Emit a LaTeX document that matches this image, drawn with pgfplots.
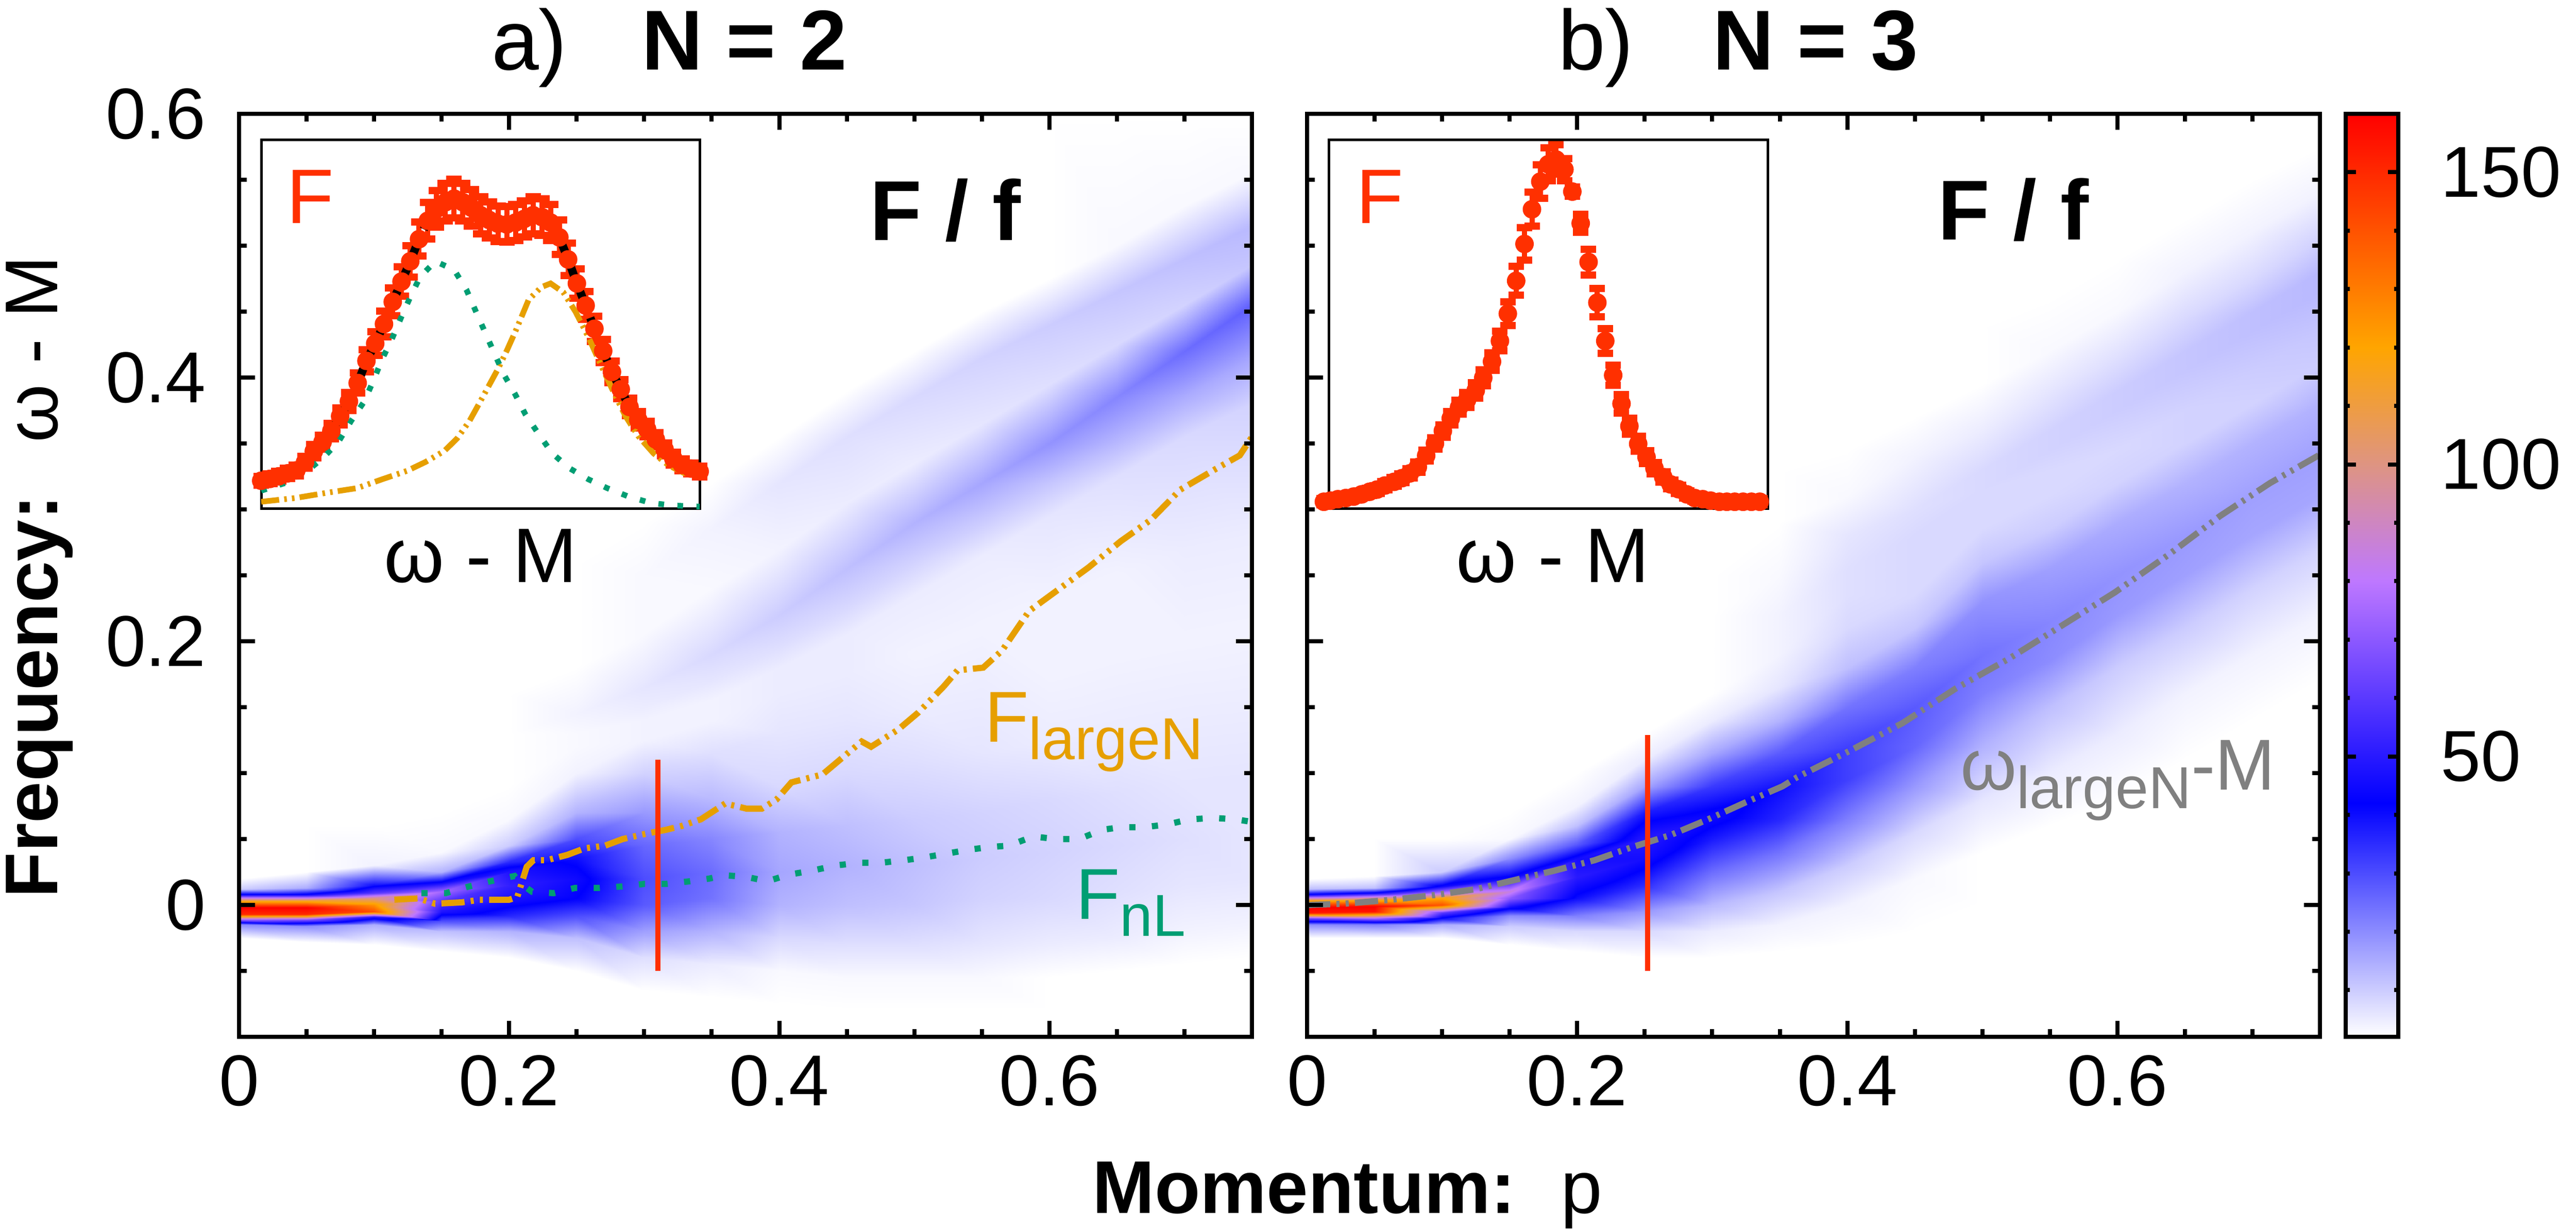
\documentclass[border=0pt]{standalone}
\usepackage{fontspec}
\setmainfont{Liberation Sans}
\usepackage{pgfplots}
\usepackage{pgfplotstable}
\pgfplotsset{compat=1.18}
\definecolor{fred}{RGB}{255,48,0}
\definecolor{forange}{RGB}{230,159,0}
\definecolor{fgreen}{RGB}{0,158,115}
\definecolor{fgrey}{RGB}{128,128,128}
\pgfplotsset{
  colormap={heat}{rgb255(0)=(255,255,255) rgb255(253)=(0,0,255) rgb255(494)=(190,120,255) rgb255(620)=(222,148,130) rgb255(747)=(255,165,0) rgb255(1000)=(255,0,0)},
  /pgf/number format/assume math mode=true,
  mainax/.style={
    anchor=south west, width=196.6pt, height=179.2pt, scale only axis,
    xmin=0, xmax=0.75, ymin=-0.1, ymax=0.6,
    xtick={0,0.2,0.4,0.6}, ytick={0,0.2,0.4,0.6},
    minor xtick={0.05,0.1,0.15,0.25,0.3,0.35,0.45,0.5,0.55,0.65,0.7},
    minor ytick={-0.05,0.05,0.1,0.15,0.25,0.3,0.35,0.45,0.5,0.55},
    tick align=inside, major tick length=3.1pt, minor tick length=1.5pt,
    axis line style={line width=0.8pt},
    every tick/.append style={line width=0.8pt, black},
    tick label style={font=\fontsize{14}{14}\selectfont},
    point meta min=2, point meta max=160,
    axis on top,
  },
  inset/.style={
    anchor=south west, width=85.1pt, height=71.6pt, scale only axis,
    xmin=0, xmax=1, ymin=0, ymax=1, ticks=none,
    axis line style={line width=0.5pt},
    axis background/.style={fill=white}, clip=false,
  },
  heat/.style={surf, shader=interp, mesh/cols=16, point meta=explicit},
  ddd/.style={line width=1.2pt, dash pattern=on 4.5pt off 1.2pt on 0.6pt off 1.2pt on 0.6pt off 1.2pt},
  dotsq/.style={line width=1.2pt, dash pattern=on 1.2pt off 3.2pt},
  errpts/.style={only marks, mark=*, mark size=1.6pt, fred, mark options={fill=fred, draw=fred},
    error bars/y dir=both, error bars/y explicit,
    error bars/error bar style={line width=1pt, fred},
    error bars/error mark options={rotate=90, mark size=1.5pt, line width=1.4pt, fred}},
}
\pgfplotstableread{
0 0.075 0.012
0.02 0.08 0.013
0.04 0.087 0.013
0.06 0.095 0.014
0.08 0.103 0.015
0.1 0.125 0.016
0.12 0.155 0.018
0.14 0.18 0.019
0.16 0.21 0.021
0.18 0.25 0.023
0.2 0.29 0.025
0.22 0.34 0.027
0.24 0.4 0.03
0.26 0.447 0.032
0.28 0.5 0.035
0.3 0.56 0.038
0.32 0.615 0.04
0.34 0.67 0.043
0.36 0.73 0.046
0.38 0.78 0.049
0.4 0.812 0.05
0.42 0.83 0.051
0.44 0.84 0.052
0.46 0.83 0.051
0.48 0.815 0.05
0.5 0.795 0.05
0.52 0.782 0.049
0.54 0.772 0.048
0.56 0.77 0.048
0.58 0.775 0.049
0.6 0.785 0.049
0.62 0.795 0.05
0.64 0.79 0.05
0.66 0.775 0.049
0.68 0.735 0.047
0.7 0.675 0.044
0.72 0.61 0.04
0.74 0.55 0.038
0.76 0.487 0.034
0.78 0.427 0.031
0.8 0.37 0.029
0.82 0.323 0.026
0.84 0.275 0.024
0.86 0.24 0.022
0.88 0.215 0.021
0.9 0.187 0.019
0.92 0.16 0.018
0.94 0.135 0.017
0.96 0.118 0.016
0.98 0.108 0.015
1 0.1 0.015
}\insetA
\pgfplotstableread{
-0.011 0.018 0.008
0.004 0.021 0.008
0.021 0.025 0.008
0.039 0.028 0.008
0.057 0.032 0.009
0.075 0.038 0.009
0.093 0.045 0.01
0.110 0.051 0.01
0.128 0.062 0.011
0.149 0.072 0.012
0.167 0.082 0.012
0.185 0.095 0.013
0.203 0.112 0.014
0.222 0.143 0.015
0.242 0.176 0.016
0.260 0.210 0.017
0.278 0.244 0.018
0.297 0.274 0.019
0.315 0.294 0.02
0.335 0.320 0.021
0.352 0.354 0.022
0.372 0.398 0.024
0.390 0.454 0.026
0.408 0.528 0.032
0.427 0.617 0.039
0.446 0.717 0.044
0.463 0.811 0.046
0.482 0.886 0.045
0.500 0.933 0.045
0.518 0.946 0.04
0.537 0.919 0.03
0.555 0.859 0.012
0.574 0.773 0.025
0.592 0.668 0.035
0.612 0.558 0.038
0.630 0.454 0.033
0.648 0.361 0.027
0.667 0.284 0.025
0.685 0.223 0.022
0.705 0.175 0.02
0.724 0.139 0.018
0.742 0.109 0.016
0.762 0.085 0.014
0.779 0.065 0.012
0.797 0.052 0.011
0.816 0.038 0.01
0.834 0.028 0.009
0.852 0.025 0.008
0.870 0.021 0.008
0.890 0.018 0.008
0.907 0.018 0.008
0.925 0.018 0.008
0.944 0.018 0.008
0.963 0.018 0.008
0.982 0.018 0.008
}\insetB
\begin{document}
\begin{tikzpicture}
\useasboundingbox (0,0) rectangle (500pt,-238.9pt);
% ---------------- panel a ----------------
\begin{axis}[mainax, at={(46.4pt,-201.3pt)}, yticklabel style={xshift=-2.9pt}]
\addplot[heat] coordinates {
(0,-0.1)[0] (0.05,-0.1)[0] (0.1,-0.1)[0] (0.15,-0.1)[0] (0.2,-0.1)[0] (0.25,-0.1)[0] (0.3,-0.1)[0] (0.35,-0.1)[0] (0.4,-0.1)[0] (0.45,-0.1)[0] (0.5,-0.1)[0] (0.55,-0.1)[0] (0.6,-0.1)[0] (0.65,-0.1)[0] (0.7,-0.1)[0] (0.75,-0.1)[0]
(0,-0.025)[2] (0.05,-0.028)[2] (0.1,-0.03)[2] (0.15,-0.035)[2] (0.2,-0.04)[2] (0.25,-0.05)[2] (0.3,-0.065)[2] (0.35,-0.07)[2] (0.4,-0.075)[2] (0.45,-0.08)[2] (0.5,-0.08)[2] (0.55,-0.08)[2] (0.6,-0.08)[2] (0.65,-0.08)[2] (0.7,-0.075)[2] (0.75,-0.07)[2]
(0,-0.015)[20] (0.05,-0.016)[20] (0.1,-0.015)[15] (0.15,-0.02)[12] (0.2,-0.02)[14] (0.25,-0.025)[12] (0.3,-0.04)[7] (0.35,-0.045)[5] (0.4,-0.05)[3] (0.45,-0.055)[3] (0.5,-0.055)[3] (0.55,-0.055)[3] (0.6,-0.055)[2] (0.65,-0.05)[2] (0.7,-0.045)[2] (0.75,-0.04)[2]
(0,-0.011)[75] (0.05,-0.011)[70] (0.1,-0.009)[50] (0.15,-0.012)[30] (0.2,-0.008)[36] (0.25,-0.008)[30] (0.3,-0.02)[17] (0.35,-0.02)[14] (0.4,-0.025)[8] (0.45,-0.03)[7] (0.5,-0.03)[7] (0.55,-0.03)[6] (0.6,-0.03)[5] (0.65,-0.025)[5] (0.7,-0.02)[4] (0.75,-0.015)[4]
(0,-0.007)[150] (0.05,-0.007)[150] (0.1,-0.005)[140] (0.15,-0.005)[48] (0.2,0.003)[46] (0.25,0.005)[42] (0.3,0)[28] (0.35,0.005)[24] (0.4,0)[14] (0.45,0)[12] (0.5,0)[11] (0.55,0.005)[9] (0.6,0.005)[8] (0.65,0.01)[7] (0.7,0.015)[6] (0.75,0.02)[6]
(0,-0.002)[160] (0.05,-0.002)[160] (0.1,0)[125] (0.15,0.003)[60] (0.2,0.015)[52] (0.25,0.02)[45] (0.3,0.02)[30] (0.35,0.025)[25] (0.4,0.025)[16] (0.45,0.03)[14] (0.5,0.03)[12] (0.55,0.035)[10] (0.6,0.04)[9] (0.65,0.045)[8] (0.7,0.05)[7] (0.75,0.055)[6]
(0,0.003)[115] (0.05,0.003)[115] (0.1,0.005)[100] (0.15,0.01)[75] (0.2,0.025)[48] (0.25,0.035)[40] (0.3,0.045)[26] (0.35,0.05)[21] (0.4,0.055)[14] (0.45,0.06)[12] (0.5,0.065)[10] (0.55,0.07)[9] (0.6,0.08)[8] (0.65,0.085)[7] (0.7,0.095)[6] (0.75,0.1)[6]
(0,0.008)[45] (0.05,0.008)[45] (0.1,0.009)[60] (0.15,0.017)[45] (0.2,0.033)[35] (0.25,0.05)[30] (0.3,0.07)[18] (0.35,0.08)[13] (0.4,0.09)[8] (0.45,0.1)[8] (0.5,0.11)[7] (0.55,0.115)[6] (0.6,0.125)[5] (0.65,0.135)[5] (0.7,0.145)[5] (0.75,0.15)[5]
(0,0.012)[10] (0.05,0.013)[15] (0.1,0.015)[40] (0.15,0.025)[14] (0.2,0.045)[10] (0.25,0.07)[14] (0.3,0.1)[9] (0.35,0.115)[7] (0.4,0.13)[6] (0.45,0.14)[6] (0.5,0.15)[5] (0.55,0.16)[5] (0.6,0.175)[4] (0.65,0.19)[4] (0.7,0.2)[4] (0.75,0.21)[4]
(0,0.02)[2] (0.05,0.025)[2] (0.1,0.03)[4] (0.15,0.04)[3] (0.2,0.065)[3] (0.25,0.1)[4] (0.3,0.125)[4] (0.35,0.14)[4] (0.4,0.16)[5] (0.45,0.175)[5] (0.5,0.19)[4] (0.55,0.21)[4] (0.6,0.23)[4] (0.65,0.25)[4] (0.7,0.27)[5] (0.75,0.28)[5]
(0,0.06)[0] (0.05,0.06)[0] (0.1,0.06)[0] (0.15,0.07)[1] (0.2,0.09)[2] (0.25,0.12)[3] (0.3,0.14)[4] (0.35,0.155)[4] (0.4,0.18)[5] (0.45,0.205)[5] (0.5,0.235)[5] (0.55,0.265)[5] (0.6,0.295)[6] (0.65,0.325)[7] (0.7,0.355)[8] (0.75,0.38)[9]
(0,0.1)[0] (0.05,0.1)[0] (0.1,0.1)[0] (0.15,0.1)[0] (0.2,0.11)[2] (0.25,0.13)[3] (0.3,0.15)[5] (0.35,0.17)[6] (0.4,0.195)[7] (0.45,0.225)[8] (0.5,0.26)[9] (0.55,0.29)[10] (0.6,0.32)[11] (0.65,0.35)[13] (0.7,0.385)[15] (0.75,0.415)[16]
(0,0.15)[0] (0.05,0.15)[0] (0.1,0.15)[0] (0.15,0.15)[0] (0.2,0.13)[1] (0.25,0.145)[4] (0.3,0.165)[6] (0.35,0.19)[8] (0.4,0.22)[10] (0.45,0.255)[12] (0.5,0.29)[14] (0.55,0.32)[16] (0.6,0.35)[19] (0.65,0.385)[21] (0.7,0.42)[25] (0.75,0.455)[27]
(0,0.2)[0] (0.05,0.2)[0] (0.1,0.2)[0] (0.15,0.2)[0] (0.2,0.16)[0] (0.25,0.18)[2] (0.3,0.205)[3] (0.35,0.24)[3] (0.4,0.27)[4] (0.45,0.305)[5] (0.5,0.335)[5] (0.55,0.365)[6] (0.6,0.395)[7] (0.65,0.425)[8] (0.7,0.455)[9] (0.75,0.485)[11]
(0,0.25)[0] (0.05,0.25)[0] (0.1,0.25)[0] (0.15,0.25)[0] (0.2,0.2)[0] (0.25,0.22)[2] (0.3,0.25)[3] (0.35,0.285)[4] (0.4,0.32)[6] (0.45,0.355)[7] (0.5,0.385)[8] (0.55,0.415)[9] (0.6,0.44)[10] (0.65,0.465)[11] (0.7,0.49)[12] (0.75,0.515)[13]
(0,0.3)[0] (0.05,0.3)[0] (0.1,0.3)[0] (0.15,0.3)[0] (0.2,0.25)[0] (0.25,0.26)[0] (0.3,0.29)[1] (0.35,0.32)[1] (0.4,0.355)[2] (0.45,0.39)[2] (0.5,0.42)[2] (0.55,0.45)[2] (0.6,0.475)[2] (0.65,0.5)[3] (0.7,0.53)[3] (0.75,0.555)[3]
(0,0.6)[0] (0.05,0.6)[0] (0.1,0.6)[0] (0.15,0.6)[0] (0.2,0.6)[0] (0.25,0.6)[0] (0.3,0.6)[0] (0.35,0.6)[0] (0.4,0.6)[0] (0.45,0.6)[0] (0.5,0.6)[0] (0.55,0.6)[0] (0.6,0.6)[0] (0.65,0.6)[0] (0.7,0.6)[0] (0.75,0.6)[0]
};
\addplot[forange, ddd] coordinates {(0.115,0.004) (0.133,0.005) (0.145,0.001) (0.165,0.002) (0.178,0.004) (0.2,0.004) (0.206,0.006) (0.213,0.029) (0.218,0.034) (0.228,0.034) (0.243,0.038) (0.256,0.043) (0.271,0.045) (0.284,0.05) (0.301,0.054) (0.316,0.057) (0.328,0.06) (0.342,0.065) (0.36,0.077) (0.376,0.073) (0.387,0.073) (0.398,0.08) (0.409,0.093) (0.432,0.099) (0.461,0.124) (0.468,0.12) (0.488,0.133) (0.503,0.146) (0.522,0.166) (0.532,0.178) (0.551,0.18) (0.565,0.193) (0.585,0.223) (0.605,0.238) (0.629,0.256) (0.653,0.276) (0.675,0.292) (0.697,0.315) (0.722,0.33) (0.741,0.341) (0.75,0.355)};
\addplot[fgreen, dotsq] coordinates {(0.135,0.009) (0.153,0.009) (0.17,0.014) (0.186,0.018) (0.204,0.022) (0.209,0.016) (0.217,0.01) (0.233,0.009) (0.249,0.013) (0.267,0.013) (0.283,0.014) (0.3,0.016) (0.316,0.016) (0.334,0.018) (0.348,0.02) (0.359,0.0225) (0.375,0.0215) (0.391,0.018) (0.407,0.023) (0.424,0.026) (0.442,0.03) (0.459,0.032) (0.475,0.032) (0.493,0.034) (0.507,0.036) (0.524,0.039) (0.541,0.042) (0.556,0.044) (0.57,0.045) (0.588,0.052) (0.605,0.05) (0.622,0.05) (0.639,0.057) (0.653,0.059) (0.67,0.059) (0.687,0.061) (0.704,0.065) (0.722,0.066) (0.738,0.065) (0.75,0.063)};
\addplot[fred, line width=1pt] coordinates {(0.31,-0.05) (0.31,0.11)};
\end{axis}
% ---------------- panel b ----------------
\begin{axis}[mainax, at={(253.7pt,-201.3pt)}, yticklabels={},
  colorbar,
  colorbar style={
    at={(parent axis.north east)}, anchor=north west, xshift=-3.54pt,
    width=10.2pt, height=179.2pt, scale only axis,
    ytick={50,100,150}, minor ytick={10,20,30,40,60,70,80,90,110,120,130,140},
    tick align=inside, ytick pos=both, yticklabel pos=right,
    major tick length=2pt, minor tick length=0.8pt,
    axis line style={line width=0.8pt}, axis on top,
    every tick/.append style={line width=0.8pt, black},
    yticklabel style={font=\fontsize{14}{14}\selectfont, xshift=4.7pt},
  }]
\addplot[heat] coordinates {
(0,-0.1)[0] (0.05,-0.1)[0] (0.1,-0.1)[0] (0.15,-0.1)[0] (0.2,-0.1)[0] (0.25,-0.1)[0] (0.3,-0.1)[0] (0.35,-0.1)[0] (0.4,-0.1)[0] (0.45,-0.1)[0] (0.5,-0.1)[0] (0.55,-0.1)[0] (0.6,-0.1)[0] (0.65,-0.1)[0] (0.7,-0.1)[0] (0.75,-0.1)[0]
(0,-0.025)[2] (0.05,-0.025)[2] (0.1,-0.025)[2] (0.15,-0.03)[2] (0.2,-0.035)[2] (0.25,-0.04)[2] (0.3,-0.04)[2] (0.35,-0.035)[2] (0.4,-0.03)[2] (0.45,-0.02)[2] (0.5,0)[2] (0.55,0.02)[2] (0.6,0.04)[2] (0.65,0.06)[2] (0.7,0.09)[2] (0.75,0.12)[2]
(0,-0.015)[20] (0.05,-0.015)[22] (0.1,-0.015)[15] (0.15,-0.016)[10] (0.2,-0.02)[8] (0.25,-0.02)[8] (0.3,-0.02)[5] (0.35,-0.015)[4] (0.4,0)[4] (0.45,0.02)[3] (0.5,0.04)[2] (0.55,0.06)[2] (0.6,0.08)[2] (0.65,0.11)[2] (0.7,0.14)[2] (0.75,0.17)[2]
(0,-0.01)[65] (0.05,-0.01)[75] (0.1,-0.01)[40] (0.15,-0.008)[20] (0.2,-0.008)[22] (0.25,-0.005)[18] (0.3,0)[13] (0.35,0.01)[11] (0.4,0.03)[10] (0.45,0.055)[8] (0.5,0.08)[6] (0.55,0.1)[5] (0.6,0.13)[5] (0.65,0.16)[4] (0.7,0.19)[4] (0.75,0.22)[4]
(0,-0.006)[155] (0.05,-0.005)[155] (0.1,-0.006)[60] (0.15,-0.002)[45] (0.2,0.005)[40] (0.25,0.015)[35] (0.3,0.025)[25] (0.35,0.04)[24] (0.4,0.065)[22] (0.45,0.09)[18] (0.5,0.12)[14] (0.55,0.15)[12] (0.6,0.18)[10] (0.65,0.21)[10] (0.7,0.24)[9] (0.75,0.27)[9]
(0,-0.002)[160] (0.05,-0.001)[160] (0.1,0)[140] (0.15,0.005)[70] (0.2,0.021)[50] (0.25,0.035)[46] (0.3,0.05)[38] (0.35,0.065)[36] (0.4,0.095)[32] (0.45,0.12)[26] (0.5,0.16)[22] (0.55,0.185)[20] (0.6,0.22)[18] (0.65,0.25)[17] (0.7,0.28)[16] (0.75,0.31)[16]
(0,0.003)[120] (0.05,0.004)[115] (0.1,0.005)[120] (0.15,0.01)[85] (0.2,0.035)[46] (0.25,0.05)[50] (0.3,0.067)[45] (0.35,0.088)[40] (0.4,0.12)[32] (0.45,0.15)[28] (0.5,0.19)[24] (0.55,0.215)[21] (0.6,0.25)[19] (0.65,0.28)[18] (0.7,0.31)[17] (0.75,0.34)[17]
(0,0.008)[45] (0.05,0.009)[45] (0.1,0.009)[80] (0.15,0.02)[45] (0.2,0.046)[28] (0.25,0.07)[38] (0.3,0.09)[33] (0.35,0.115)[28] (0.4,0.15)[24] (0.45,0.18)[22] (0.5,0.23)[19] (0.55,0.255)[17] (0.6,0.29)[15] (0.65,0.32)[14] (0.7,0.35)[14] (0.75,0.38)[14]
(0,0.012)[12] (0.05,0.013)[12] (0.1,0.014)[45] (0.15,0.035)[20] (0.2,0.06)[12] (0.25,0.09)[16] (0.3,0.115)[16] (0.35,0.14)[14] (0.4,0.18)[12] (0.45,0.21)[11] (0.5,0.26)[11] (0.55,0.285)[10] (0.6,0.32)[9] (0.65,0.35)[9] (0.7,0.38)[9] (0.75,0.41)[10]
(0,0.02)[2] (0.05,0.022)[2] (0.1,0.025)[10] (0.15,0.05)[3] (0.2,0.075)[4] (0.25,0.11)[5] (0.3,0.14)[5] (0.35,0.165)[6] (0.4,0.21)[8] (0.45,0.235)[8] (0.5,0.285)[8] (0.55,0.31)[8] (0.6,0.345)[8] (0.65,0.375)[9] (0.7,0.405)[10] (0.75,0.435)[11]
(0,0.05)[0] (0.05,0.05)[0] (0.1,0.05)[1] (0.15,0.07)[1] (0.2,0.1)[1] (0.25,0.13)[2] (0.3,0.16)[2] (0.35,0.19)[4] (0.4,0.235)[7] (0.45,0.26)[8] (0.5,0.3)[8] (0.55,0.33)[8] (0.6,0.36)[9] (0.65,0.39)[10] (0.7,0.42)[11] (0.75,0.45)[12]
(0,0.1)[0] (0.05,0.1)[0] (0.1,0.1)[0] (0.15,0.1)[0] (0.2,0.13)[0] (0.25,0.16)[0] (0.3,0.19)[1] (0.35,0.22)[4] (0.4,0.255)[7] (0.45,0.28)[8] (0.5,0.315)[8] (0.55,0.345)[9] (0.6,0.375)[10] (0.65,0.405)[11] (0.7,0.435)[12] (0.75,0.465)[13]
(0,0.15)[0] (0.05,0.15)[0] (0.1,0.15)[0] (0.15,0.15)[0] (0.2,0.16)[0] (0.25,0.19)[0] (0.3,0.22)[0] (0.35,0.25)[3] (0.4,0.28)[6] (0.45,0.3)[7] (0.5,0.33)[8] (0.55,0.36)[9] (0.6,0.39)[10] (0.65,0.42)[11] (0.7,0.45)[12] (0.75,0.48)[13]
(0,0.2)[0] (0.05,0.2)[0] (0.1,0.2)[0] (0.15,0.2)[0] (0.2,0.2)[0] (0.25,0.22)[0] (0.3,0.25)[0] (0.35,0.29)[1] (0.4,0.31)[3] (0.45,0.34)[4] (0.5,0.36)[5] (0.55,0.39)[6] (0.6,0.415)[7] (0.65,0.445)[8] (0.7,0.475)[8] (0.75,0.505)[9]
(0,0.25)[0] (0.05,0.25)[0] (0.1,0.25)[0] (0.15,0.25)[0] (0.2,0.25)[0] (0.25,0.26)[0] (0.3,0.29)[0] (0.35,0.33)[0] (0.4,0.345)[1] (0.45,0.37)[2] (0.5,0.395)[2] (0.55,0.42)[3] (0.6,0.45)[3] (0.65,0.48)[4] (0.7,0.51)[4] (0.75,0.54)[4]
(0,0.3)[0] (0.05,0.3)[0] (0.1,0.3)[0] (0.15,0.3)[0] (0.2,0.3)[0] (0.25,0.3)[0] (0.3,0.33)[0] (0.35,0.37)[0] (0.4,0.4)[0] (0.45,0.42)[0] (0.5,0.44)[0] (0.55,0.46)[0] (0.6,0.49)[0] (0.65,0.52)[0] (0.7,0.55)[0] (0.75,0.575)[0]
(0,0.6)[0] (0.05,0.6)[0] (0.1,0.6)[0] (0.15,0.6)[0] (0.2,0.6)[0] (0.25,0.6)[0] (0.3,0.6)[0] (0.35,0.6)[0] (0.4,0.6)[0] (0.45,0.6)[0] (0.5,0.6)[0] (0.55,0.6)[0] (0.6,0.6)[0] (0.65,0.6)[0] (0.7,0.6)[0] (0.75,0.6)[0]
};
\addplot[fgrey, ddd] coordinates {(0,0) (0.028,0.001) (0.063,0.004) (0.094,0.0075) (0.125,0.012) (0.154,0.019) (0.183,0.026) (0.213,0.034) (0.241,0.044) (0.269,0.053) (0.297,0.065) (0.325,0.078) (0.352,0.09) (0.363,0.097) (0.402,0.117) (0.441,0.138) (0.48,0.164) (0.52,0.187) (0.559,0.212) (0.598,0.237) (0.637,0.265) (0.676,0.295) (0.713,0.32) (0.749,0.341)};
\addplot[fred, line width=1pt] coordinates {(0.252,-0.05) (0.252,0.129)};
\end{axis}
% ---------------- inset a ----------------
\begin{axis}[inset, at={(50.7pt,-98.7pt)}]
\addplot[errpts] table[x index=0, y index=1, y error index=2] {\insetA};
\addplot[forange, line width=1.1pt, dash pattern=on 3.5pt off 1pt on 0.5pt off 1pt on 0.5pt off 1pt] coordinates {(0,0.018) (0.077,0.028) (0.148,0.042) (0.219,0.055) (0.276,0.079) (0.333,0.102) (0.375,0.126) (0.418,0.156) (0.447,0.19) (0.475,0.237) (0.497,0.284) (0.518,0.33) (0.54,0.378) (0.561,0.43) (0.582,0.486) (0.61,0.566) (0.639,0.6) (0.66,0.61) (0.689,0.586) (0.717,0.533) (0.746,0.465) (0.774,0.391) (0.803,0.317) (0.831,0.25) (0.86,0.196) (0.895,0.149) (0.93,0.116) (0.966,0.095) (1,0.089)};
\addplot[fgreen, line width=1.1pt, dash pattern=on 1.1pt off 2.6pt] coordinates {(0,0.048) (0.055,0.069) (0.098,0.095) (0.14,0.136) (0.176,0.18) (0.205,0.237) (0.235,0.29) (0.255,0.344) (0.276,0.405) (0.298,0.459) (0.32,0.52) (0.34,0.573) (0.362,0.627) (0.397,0.67) (0.44,0.647) (0.468,0.593) (0.49,0.533) (0.51,0.479) (0.532,0.42) (0.553,0.364) (0.579,0.31) (0.603,0.254) (0.632,0.203) (0.664,0.149) (0.703,0.109) (0.746,0.079) (0.789,0.055) (0.838,0.032) (0.888,0.015) (0.938,0.008) (1,0.005)};
\addplot[black, line width=1.6pt, dash pattern=on 3.5pt off 2pt] table[x index=0, y index=1] {\insetA};
\end{axis}
% ---------------- inset b ----------------
\begin{axis}[inset, at={(257.9pt,-98.7pt)}, width=85.2pt]
\addplot[errpts] table[x index=0, y index=1, y error index=2] {\insetB};
\end{axis}
% ---------------- texts ----------------
\node[anchor=base west, inner sep=0, font=\fontsize{16.5}{16.5}\selectfont] at (95.2pt,-13.5pt) {a)};
\node[anchor=base west, inner sep=0, font=\fontsize{16.5}{16.5}\selectfont\bfseries] at (124.3pt,-13.5pt) {N = 2};
\node[anchor=base west, inner sep=0, font=\fontsize{16.5}{16.5}\selectfont] at (302.2pt,-13.5pt) {b)};
\node[anchor=base west, inner sep=0, font=\fontsize{16.5}{16.5}\selectfont\bfseries] at (332.2pt,-13.5pt) {N = 3};
\node[anchor=base, inner sep=0, font=\fontsize{16.5}{16.5}\selectfont\bfseries] at (183.5pt,-46.6pt) {F / f};
\node[anchor=base, inner sep=0, font=\fontsize{16.5}{16.5}\selectfont\bfseries] at (390.8pt,-46.5pt) {F / f};
\node[anchor=base west, inner sep=0, text=fred, font=\fontsize{15}{15}\selectfont] at (55.4pt,-43.3pt) {F};
\node[anchor=base west, inner sep=0, text=fred, font=\fontsize{15}{15}\selectfont] at (263.0pt,-43.3pt) {F};
\node[anchor=base, inner sep=0, font=\fontsize{15}{15}\selectfont] at (93.3pt,-113pt) {ω - M};
\node[anchor=base, inner sep=0, font=\fontsize{15}{15}\selectfont] at (301.4pt,-113pt) {ω - M};
\node[anchor=base west, inner sep=0, text=forange, font=\fontsize{14}{14}\selectfont] at (190.9pt,-144pt) {F\raisebox{-3.4pt}{\fontsize{11.5}{11.5}\selectfont largeN}};
\node[anchor=base west, inner sep=0, text=fgreen, font=\fontsize{14}{14}\selectfont] at (208.6pt,-178.4pt) {F\raisebox{-3.3pt}{\fontsize{11.5}{11.5}\selectfont nL}};
\node[anchor=base west, inner sep=0, text=fgrey, font=\fontsize{14}{14}\selectfont] at (380.3pt,-153.3pt) {ω\raisebox{-3.6pt}{\fontsize{11.5}{11.5}\selectfont largeN}-M};
\node[rotate=90, anchor=base, inner sep=0, font=\fontsize{14.5}{14.5}\selectfont] at (11.2pt,-112pt) {\textbf{Frequency:}\hspace{0.7em}ω - M};
\node[anchor=base, inner sep=0, font=\fontsize{14.5}{14.5}\selectfont] at (261.5pt,-235.5pt) {\textbf{Momentum:}\hspace{0.6em}p};
\end{tikzpicture}
\end{document}
